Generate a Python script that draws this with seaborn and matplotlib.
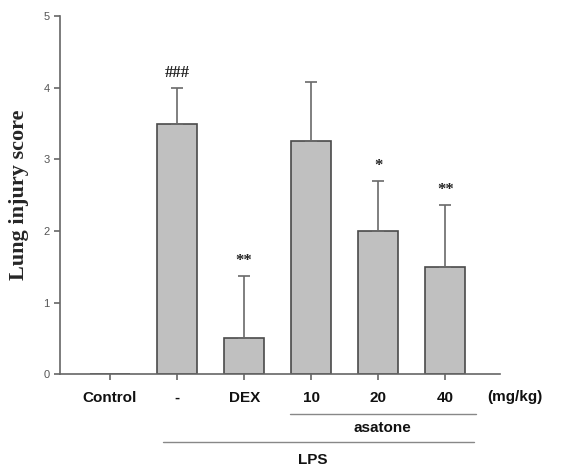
import matplotlib
matplotlib.use("Agg")
import matplotlib.pyplot as plt
import pandas as pd
import seaborn as sns

# data
groups = ["Control", "-", "DEX", "10", "20", "40"]
scores = [0.0, 3.5, 0.5, 3.25, 2.0, 1.5]
errors = [0.0, 0.5, 0.87, 0.83, 0.7, 0.86]
marks = ["", "###", "**", "", "*", "**"]

df = pd.DataFrame({"group": groups, "score": scores})

sns.set_style("ticks")
plt.rcParams["font.family"] = ["Liberation Sans", "DejaVu Sans"]

fig = plt.figure(figsize=(5.83, 4.73), dpi=100)
ax = fig.add_axes([0.103, 0.209, 0.755, 0.757])

sns.barplot(data=df, x="group", y="score", color="#c0c0c0", saturation=1,
            width=0.59, edgecolor="#4a4a4a", linewidth=1.2, ax=ax, errorbar=None)

# upward error bars only
for i, (s, e) in enumerate(zip(scores, errors)):
    if e > 0:
        ax.errorbar(i, s, yerr=[[0], [e]], fmt="none", ecolor="#6a6a6a",
                    elinewidth=1.2, capsize=4, capthick=1.2, zorder=1)
    if marks[i]:
        ax.annotate(marks[i], (i, s + e), xytext=(0, 5), textcoords="offset points",
                    ha="center", va="bottom", fontsize=12, fontweight="bold",
                    color="#222222", family=["Liberation Serif"])

ax.set_ylim(0, 5)
ax.set_xlim(-0.746, 5.82)
ax.set_yticks([0, 1, 2, 3, 4, 5])
ax.set_xlabel("")
ax.set_ylabel("Lung injury score", family=["Liberation Serif"], fontsize=16,
              fontweight="bold", labelpad=10)

for side in ["top", "right"]:
    ax.spines[side].set_visible(False)
for side in ["left", "bottom"]:
    ax.spines[side].set_color("#666666")
    ax.spines[side].set_linewidth(1.2)
ax.tick_params(axis="both", colors="#666666", width=1.2, length=4)
ax.tick_params(axis="y", labelsize=8, labelcolor="#555555")
ax.tick_params(axis="x", labelsize=11, labelcolor="#111111", pad=8)
for lbl in ax.get_xticklabels():
    lbl.set_fontweight("bold")

# group annotations below the axis
ax.text(5.63, -0.325, "(mg/kg)", ha="left", va="center",
        fontsize=11, fontweight="bold", color="#111111", clip_on=False)
ax.plot([2.68, 5.46], [-0.56, -0.56], color="#888888", lw=1, clip_on=False)
ax.text(4.06, -0.75, "asatone", ha="center", va="center", fontsize=11,
        fontweight="bold", color="#111111")
ax.plot([0.79, 5.43], [-0.95, -0.95], color="#888888", lw=1, clip_on=False)
ax.text(3.03, -1.2, "LPS", ha="center", va="center", fontsize=11,
        fontweight="bold", color="#111111")

fig.savefig("out.png", dpi=100)
